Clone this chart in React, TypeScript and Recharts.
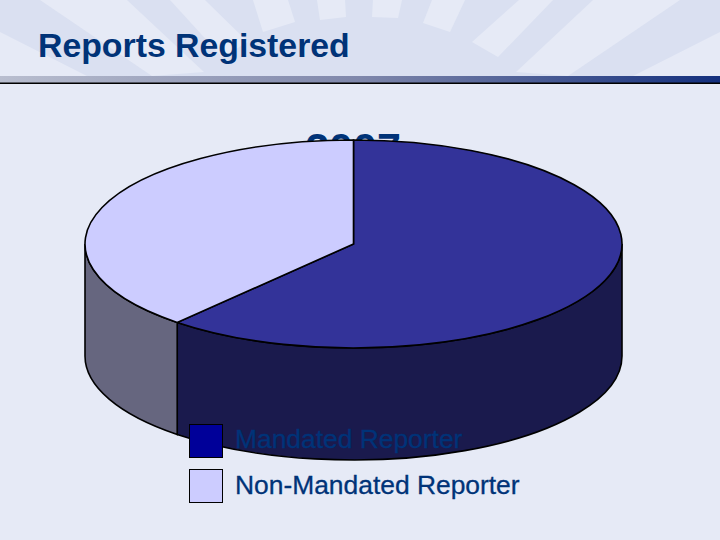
import React from 'react';
import { PieChart, Pie, Legend } from 'recharts';

const TITLE = 'Reports Registered';
const CHART_TITLE = '2007';
const NAMES = ['Mandated Reporter', 'Non-Mandated Reporter'];
const VALUES = [61.4, 38.6];
const TOP_COLORS = ['#333399', '#CCCCFF'];
const SIDE_COLORS = ['#1A1A4D', '#66667F'];
const SWATCHES = ['#000099', '#CCCCFF'];

// flattened look of the old 3D pie
const SQUASH = 104 / 268.5;
const DEPTH = 112;

const LIGHT_RAYS = [
  '0,32 87,76 0,76',
  '720,32 633,76 720,76',
  '40,0 127,0 204,72 152,76',
  '170,0 205,0 248,42 222,57',
  '253,0 288,0 295,22 263,32',
  '317,0 345,0 346,17 320,20',
  '373,0 402,0 398,18 372,17',
  '432,0 465,0 450,32 423,23',
  '519,0 553,0 498,57 472,42',
  '593,0 680,0 568,76 516,72',
];

const tableData = NAMES.map((name, i) => ({
  name,
  value: VALUES[i],
  fill: TOP_COLORS[i],
  side: SIDE_COLORS[i],
}));

const Slice3D = (props: any) => {
  const { cx, cy, outerRadius: r, startAngle, endAngle, fill, payload } = props;
  const ry = r * SQUASH;
  const pt = (deg: number) => {
    const a = (deg * Math.PI) / 180;
    return [cx + r * Math.cos(a), cy - ry * Math.sin(a)];
  };
  const [sx, sy] = pt(startAngle);
  const [ex, ey] = pt(endAngle);
  const large = Math.abs(startAngle - endAngle) > 180 ? 1 : 0;

  // only the front half of the rim shows
  const wallFrom = Math.min(startAngle, 0);
  const wallTo = Math.max(endAngle, -180);
  const [ax, ay] = pt(wallFrom);
  const [bx, by] = pt(wallTo);
  const side = payload?.side ?? props.side;

  return (
    <g>
      <path
        d={`M${ax},${ay} A${r},${ry} 0 0 1 ${bx},${by} L${bx},${by + DEPTH} A${r},${ry} 0 0 0 ${ax},${ay + DEPTH} Z`}
        fill={side}
        stroke="#000"
        strokeWidth={1.6}
      />
      <path
        d={`M${cx},${cy} L${sx},${sy} A${r},${ry} 0 ${large} 1 ${ex},${ey} Z`}
        fill={fill}
        stroke="#000"
        strokeWidth={1.6}
      />
    </g>
  );
};

const LegendBox = ({ payload }: any) => (
  <div>
    {(payload ?? []).map((item: any, i: number) => (
      <div key={item.value} style={{ position: 'absolute', left: 0, top: i * 45, height: 34, whiteSpace: 'nowrap' }}>
        <div
          style={{
            position: 'absolute',
            left: 0,
            top: 0,
            width: 32,
            height: 32,
            background: SWATCHES[i],
            border: '1px solid #000',
          }}
        />
        <span
          style={{
            position: 'absolute',
            left: 46,
            top: i === 0 ? 0 : 1,
            fontFamily: '"Liberation Sans", Arial, sans-serif',
            fontSize: 26.4,
            lineHeight: '30px',
            color: '#003378',
            WebkitTextStroke: '0.3px #003378',
          }}
        >
          {item.value}
        </span>
      </div>
    ))}
  </div>
);

export default function App() {
  return (
    <div style={{ position: 'absolute', left: 0, top: 0, width: 720, height: 540, background: '#E6EAF6', overflow: 'hidden' }}>
      <svg width={720} height={84} style={{ position: 'absolute', left: 0, top: 0 }}>
        <defs>
          <linearGradient id="band" x1="0" x2="1" y1="0" y2="0">
            <stop offset="0" stopColor="#B9BECF" />
            <stop offset="0.5" stopColor="#7F87AB" />
            <stop offset="1" stopColor="#14307E" />
          </linearGradient>
        </defs>
        <rect x={0} y={0} width={720} height={76} fill="#DAE0F1" />
        {LIGHT_RAYS.map((p) => (
          <polygon key={p} points={p} fill="#E6EAF6" />
        ))}
        <rect x={0} y={76} width={720} height={7} fill="url(#band)" />
        <rect x={0} y={82.5} width={720} height={1.5} fill="#000" />
      </svg>
      <div
        style={{
          position: 'absolute',
          left: 38,
          top: 26,
          fontFamily: '"Liberation Sans", Arial, sans-serif',
          fontWeight: 700,
          fontSize: 33.8,
          lineHeight: '38px',
          color: '#003378',
          whiteSpace: 'nowrap',
        }}
      >
        {TITLE}
      </div>
      <PieChart width={720} height={540} margin={{ top: 0, right: 0, bottom: 0, left: 0 }} style={{ position: 'absolute', left: 0, top: 0 }}>
        <text
          x={353}
          y={163}
          textAnchor="middle"
          fontFamily='"Liberation Sans", Arial, sans-serif'
          fontWeight={700}
          fontSize={43}
          fill="#003378"
        >
          {CHART_TITLE}
        </text>
        <Pie
          data={tableData}
          dataKey="value"
          nameKey="name"
          cx={353.5}
          cy={244}
          innerRadius={0}
          outerRadius={268.5}
          startAngle={90}
          endAngle={-270}
          paddingAngle={0}
          shape={Slice3D}
          isAnimationActive={false}
        />
        <Legend
          content={<LegendBox />}
          wrapperStyle={{ position: 'absolute', left: 189, top: 424, bottom: 'auto', width: 340, height: 80 }}
        />
      </PieChart>
    </div>
  );
}
